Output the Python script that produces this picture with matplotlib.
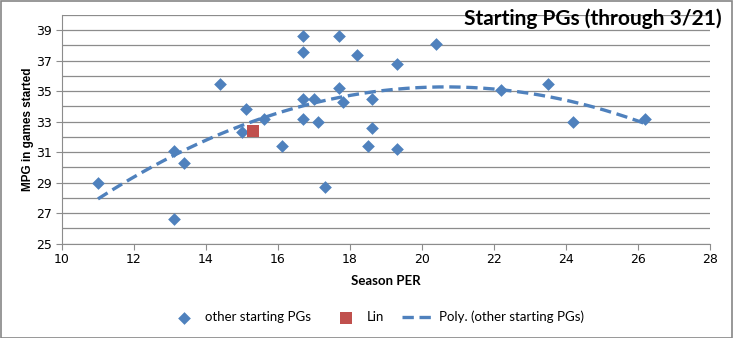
import numpy as np
import matplotlib
matplotlib.use("Agg")
from matplotlib import pyplot as plt
from matplotlib.patches import Rectangle

# other starting PGs: season PER / minutes per game in games started
per = [11.0, 13.1, 13.1, 13.4, 14.4, 15.1, 15.0, 15.6, 16.1, 16.7,
       16.7, 16.7, 16.7, 17.0, 17.1, 17.3, 17.7, 17.7, 17.8, 18.2,
       18.6, 18.6, 18.5, 19.3, 19.3, 20.4, 22.2, 23.5, 24.2, 26.2]
mpg = [29.0, 31.1, 26.6, 30.3, 35.5, 33.8, 32.3, 33.2, 31.4, 38.6,
       37.6, 34.5, 33.2, 34.5, 33.0, 28.7, 38.6, 35.2, 34.3, 37.4,
       34.5, 32.6, 31.4, 36.8, 31.2, 38.1, 35.1, 35.5, 33.0, 33.2]

lin_per = [15.3]
lin_mpg = [32.4]

blue = "#4F81BD"
red = "#C0504D"
grid_col = "#8C8C8C"

fig = plt.figure(figsize=(7.33, 3.38), dpi=100)
ax = fig.add_axes([62 / 733, 1 - 243.5 / 338, 648 / 733, 228.5 / 338])

ax.scatter(per, mpg, marker="D", s=42, color=blue, zorder=3,
           label="other starting PGs", linewidths=0)
ax.scatter(lin_per, lin_mpg, marker="s", s=70, color=red, zorder=3,
           label="Lin", linewidths=0)

# Excel-style polynomial trendline (order 2) on the other PGs
coef = np.polyfit(per, mpg, 2)
xs = np.linspace(min(per), max(per), 200)
ax.plot(xs, np.polyval(coef, xs), color=blue, lw=2.4, ls=(0, (3.4, 1.7)),
        zorder=2, label="Poly. (other starting PGs)")

ax.set_xlim(10, 28)
ax.set_ylim(25, 40)
ax.set_xticks(np.arange(10, 29, 2))
ax.set_yticks(np.arange(25, 40, 2))
ax.set_yticks(np.arange(25, 41, 1), minor=True)
ax.grid(True, axis="y", which="both", color=grid_col, lw=0.9)
ax.set_axisbelow(True)
for s in ("top", "right"):
    ax.spines[s].set_visible(False)
for s in ("left", "bottom"):
    ax.spines[s].set_color(grid_col)
ax.tick_params(axis="both", which="major", direction="out", length=4,
               color=grid_col, labelsize=9, pad=3)
ax.tick_params(axis="y", which="minor", length=0)

ax.set_xlabel("Season PER", fontsize=9.5, fontweight="bold", family="Lato",
              labelpad=6)
ax.set_ylabel("MPG in games started", fontsize=8.5, fontweight="bold",
              family="Liberation Sans", labelpad=2)

fig.text(722 / 733, 1 - 19 / 338, "Starting PGs (through 3/21)",
         ha="right", va="center", fontsize=15, fontweight="bold", family="Lato")

leg = fig.legend(loc="center", bbox_to_anchor=(0.513, 1 - 317 / 338), ncol=3,
                 frameon=False, prop={"family": "Lato", "size": 9.5},
                 columnspacing=1.4, handlelength=2.5, handletextpad=0.3)

fig.patches.append(Rectangle((0.5 / 733, 0.5 / 338), 1 - 1.5 / 733, 1 - 1.5 / 338,
                             transform=fig.transFigure, fill=False,
                             edgecolor="#868686", lw=1.2))

fig.savefig("out.png", dpi=100)
